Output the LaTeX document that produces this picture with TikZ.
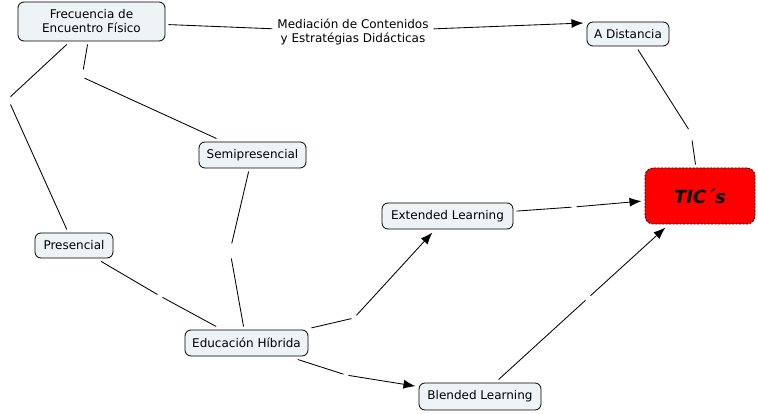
\documentclass[tikz,border=0pt]{standalone}
\usepackage{fontspec}
\setmainfont{DejaVu Sans}
\usetikzlibrary{arrows.meta}
\definecolor{nodefill}{RGB}{238,243,246}
\begin{document}
\begin{tikzpicture}[x=1pt,y=-1pt,
  concept/.style={draw=black, line width=0.8pt, fill=nodefill, rounded corners=6pt,
    inner sep=0pt, outer sep=3.5pt, font=\fontsize{12}{14}\selectfont, align=center},
  linklabel/.style={inner sep=2pt, outer sep=3pt, font=\fontsize{12}{14.5}\selectfont, align=center},
  gap/.style={inner sep=0pt, outer sep=0pt, minimum width=5pt, minimum height=15pt},
  conn/.style={line width=0.85pt},
  arr/.style={conn, -{Latex[length=12pt,width=9pt]}}]
\useasboundingbox (0,0) rectangle (758,414);
\fill[white] (0,0) rectangle (758,414);

% concepts
\node[concept, minimum width=147pt, minimum height=39pt] (F) at (91.5,21.5) {Frecuencia de\\Encuentro Físico};
\node[concept, minimum width=82pt, minimum height=24pt] (A) at (628,34) {A Distancia};
\node[concept, minimum width=107pt, minimum height=26pt] (S) at (252.5,155) {Semipresencial};
\node[concept, minimum width=78pt, minimum height=25pt] (P) at (74,245.5) {Presencial};
\node[concept, minimum width=131pt, minimum height=26pt] (X) at (447.5,216) {Extended Learning};
\node[concept, minimum width=123pt, minimum height=26pt] (H) at (246.5,343) {Educación Híbrida};
\node[concept, minimum width=122pt, minimum height=27pt] (B) at (480,396.5) {Blended Learning};
\node[concept, fill=red, draw=black!85!red, dash pattern=on 2pt off 1.5pt, rounded corners=8pt,
  minimum width=110pt, minimum height=56pt, font=\fontsize{18}{20}\selectfont\bfseries\itshape] (T) at (700,196) {TIC´s};

% linking phrase
\node[linklabel] (L) at (353,32) {Mediación de Contenidos\\y Estratégias Didácticas};

% empty linking phrases (gaps)
\node[gap] (g1) at (8,99) {};
\node[gap] (g2) at (82,77) {};
\node[gap] (g3) at (691,133) {};
\node[gap] (g4) at (230,251) {};
\node[gap] (g5) at (160,296) {};
\node[gap] (g6) at (354,318) {};
\node[gap] (g7) at (346,375) {};
\node[gap] (g8) at (574,207) {};
\node[gap] (g9) at (588,298) {};

% connectors
\draw[conn] (F) -- (L);
\draw[arr] (L) -- ([yshift=11pt]A.west);
\draw[conn] (F) -- (g1);
\draw[conn] (g1) -- (P);
\draw[conn] (F) -- (g2);
\draw[conn] (g2) -- (S);
\draw[conn] (A) -- (g3);
\draw[conn] (g3) -- (T);
\draw[conn] (S) -- (g4);
\draw[conn] (g4) -- (H);
\draw[conn] (P) -- (g5);
\draw[conn] (g5) -- (H);
\draw[conn] (H) -- (g6);
\draw[arr] (g6) -- (X);
\draw[conn] (H) -- (g7);
\draw[arr] (g7) -- (B);
\draw[conn] (X) -- (g8);
\draw[arr] (g8) -- (T);
\draw[conn] (B) -- (g9);
\draw[arr] (g9) -- (T);
\end{tikzpicture}
\end{document}
